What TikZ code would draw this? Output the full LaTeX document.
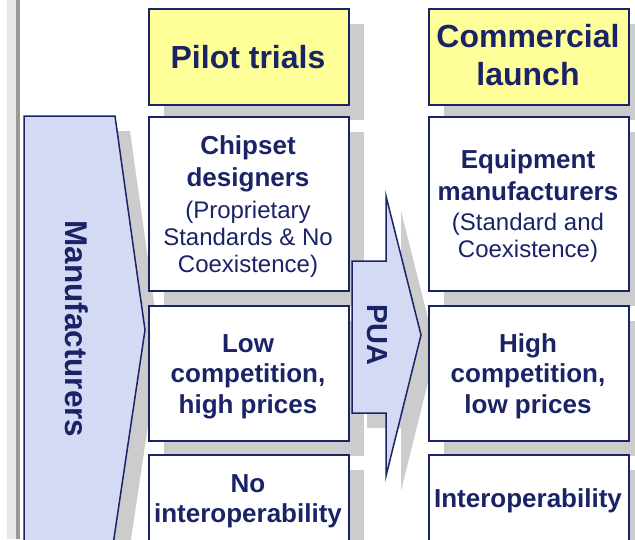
\documentclass[tikz,border=0pt]{standalone}
\usepackage{fontspec}
\setmainfont{Liberation Sans}
\usetikzlibrary{shadows}
\definecolor{navy}{HTML}{1A2366}
\definecolor{lav}{HTML}{D4DAF4}
\definecolor{pale}{HTML}{FFFF99}
\definecolor{shadowc}{HTML}{CCCCCC}
\definecolor{stripL}{HTML}{E8E8E8}
\definecolor{stripD}{HTML}{999999}
\newcommand\hdfnt{\fontsize{32}{37}\selectfont\bfseries}
\newcommand\bdfnt{\fontsize{26}{30}\selectfont\bfseries}
\newcommand\rgfnt{\fontsize{24}{27}\selectfont}
\tikzset{
  shd/.style={general shadow={fill=shadowc, shadow xshift=15pt, shadow yshift=-15pt}},
  box/.style={shd, draw=navy, line width=1.5pt, rectangle, inner sep=0pt, anchor=north west, minimum width=200pt},
  headbox/.style={box, fill=pale, minimum height=96pt},
  cellbox/.style={box, fill=white},
  chev/.style={shd, draw=navy, line width=1.5pt, fill=lav, line join=miter},
  txt/.style={text=navy, inner sep=0pt, anchor=base},
}
\begin{document}
\begin{tikzpicture}[x=1pt,y=-1pt]
\useasboundingbox (0,0) rectangle (635,539);
\clip (0,0) rectangle (635,539);
% left strip
\fill[stripL] (7,0) rectangle (16,539);
\fill[stripD] (16,0) rectangle (20,539);
% Manufacturers chevron
\path[chev] (24,116) -- (115,116) -- (145,330) -- (113,545) -- (24,545) -- cycle;
\node[txt, anchor=center, rotate=-90, font=\fontsize{31.5}{36}\selectfont\bfseries] (manu) at (77,329) {Manufacturers};
% column 1
\node[headbox] (h1) at (148,8) {};
\node[cellbox, minimum height=174pt] (c11) at (148,116) {};
\node[cellbox, minimum height=135pt] (c12) at (148,305) {};
\node[cellbox, minimum height=130pt] (c13) at (148,454) {};
% PUA arrow
\path[chev] (352,261) -- (386,261) -- (386,196) -- (421,335) -- (386,476) -- (386,413) -- (352,413) -- cycle;
\node[txt, anchor=center, rotate=-90, font=\fontsize{29}{33}\selectfont\bfseries] (pua) at (377,335) {PUA};
% column 2
\node[headbox] (h2) at (428,8) {};
\node[cellbox, minimum height=174pt] (c21) at (428,116) {};
\node[cellbox, minimum height=135pt] (c22) at (428,305) {};
\node[cellbox, minimum height=130pt] (c23) at (428,454) {};
% header texts
\node[txt, font=\hdfnt] (t1) at (248,68) {Pilot trials};
\node[txt, font=\hdfnt] (t2a) at (528,47) {Commercial};
\node[txt, font=\hdfnt] (t2b) at (528,85) {launch};
% column 1 texts
\node[txt, font=\bdfnt] (a1) at (248,154) {Chipset};
\node[txt, font=\bdfnt] (a2) at (248,186) {designers};
\node[txt, font=\rgfnt] (a3) at (248,218) {(Proprietary};
\node[txt, font=\rgfnt] (a4) at (248,245) {Standards \& No};
\node[txt, font=\rgfnt] (a5) at (248,272) {Coexistence)};
\node[txt, font=\bdfnt] (b1) at (248,352) {Low};
\node[txt, font=\bdfnt] (b2) at (248,382) {competition,};
\node[txt, font=\bdfnt] (b3) at (248,413) {high prices};
\node[txt, font=\bdfnt] (d1) at (248,492) {No};
\node[txt, font=\bdfnt] (d2) at (248,522) {interoperability};
% column 2 texts
\node[txt, font=\bdfnt] (e1) at (528,168) {Equipment};
\node[txt, font=\bdfnt] (e2) at (528,200) {manufacturers};
\node[txt, font=\rgfnt] (e3) at (528,230) {(Standard and};
\node[txt, font=\rgfnt] (e4) at (528,257) {Coexistence)};
\node[txt, font=\bdfnt] (f1) at (528,352) {High};
\node[txt, font=\bdfnt] (f2) at (528,382) {competition,};
\node[txt, font=\bdfnt] (f3) at (528,413) {low prices};
\node[txt, font=\bdfnt] (g1) at (528,507) {Interoperability};
\end{tikzpicture}
\end{document}
